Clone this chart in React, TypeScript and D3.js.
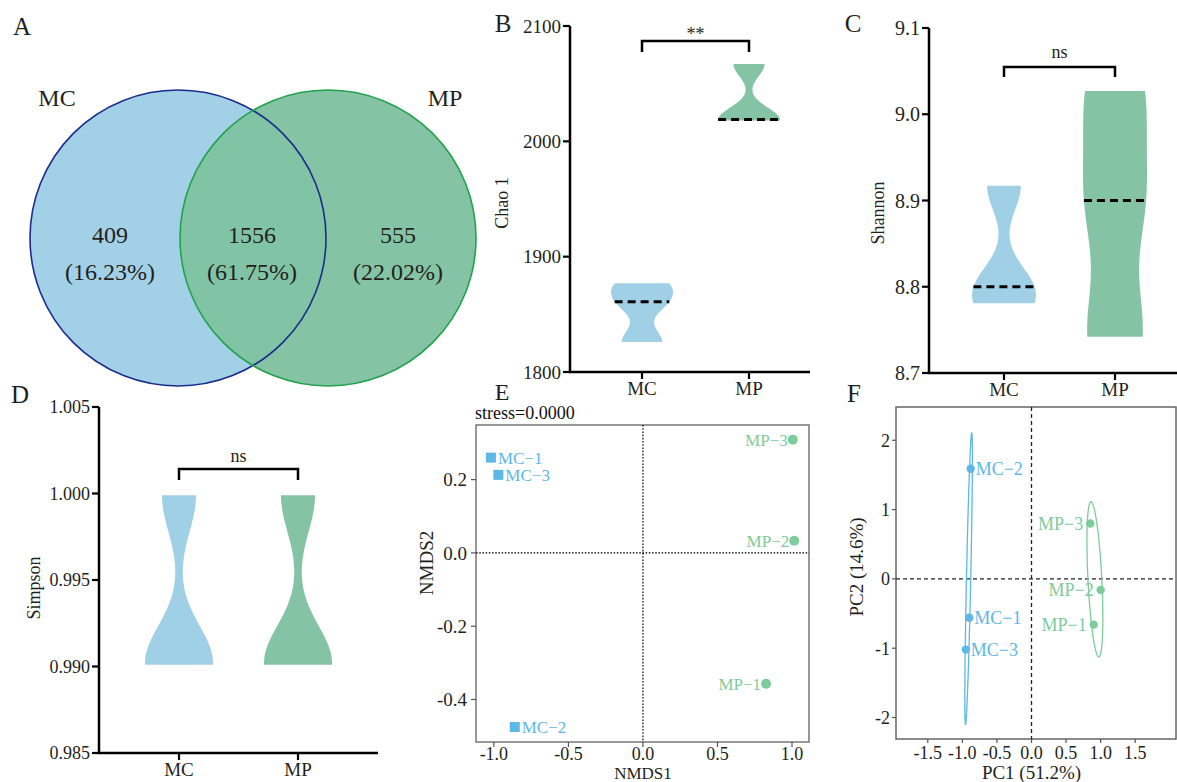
import React from 'react';
import * as d3 from 'd3';

const groups = ['MC', 'MP'];

// A: Venn
const vennSets = ['MC', 'MP'];
const vennCounts = [409, 1556, 555];
const vennPercents = ['16.23%', '61.75%', '22.02%'];

// B-D: alpha diversity, three replicates per group
const chao1MC = [1826, 1861, 1877];
const chao1MP = [2018, 2019, 2067];
const shannonMC = [8.781, 8.8, 8.917];
const shannonMP = [8.742, 8.9, 9.027];
const simpsonMC = [0.9901, 0.9903, 0.9999];
const simpsonMP = [0.9901, 0.9903, 0.9999];

const chao1Ticks = [1800, 1900, 2000, 2100];
const shannonTicks = [8.7, 8.8, 8.9, 9.0, 9.1];
const simpsonTicks = [0.985, 0.99, 0.995, 1.0, 1.005];

// E: NMDS, F: PCA
const sampleNames = ['MC−1', 'MC−2', 'MC−3', 'MP−1', 'MP−2', 'MP−3'];
const sampleGroups = ['MC', 'MC', 'MC', 'MP', 'MP', 'MP'];
const nmds1 = [-1.02, -0.86, -0.97, 0.826, 1.015, 1.005];
const nmds2 = [0.26, -0.475, 0.213, -0.357, 0.033, 0.309];
const nmdsXTicks = [-1, -0.5, 0, 0.5, 1];
const nmdsYTicks = [-0.4, -0.2, 0, 0.2];

const pc1 = [-0.9, -0.88, -0.95, 0.9, 1.0, 0.85];
const pc2 = [-0.56, 1.59, -1.02, -0.66, -0.16, 0.8];
const pcaXTicks = [-1.5, -1, -0.5, 0, 0.5, 1, 1.5];
const pcaYTicks = [-2, -1, 0, 1, 2];

const FONT = '"Liberation Serif", "Times New Roman", serif';
const INK = '#231f20';
const fill = { MC: '#a0d0e6', MP: '#84c4a4' };
const dot = { MC: '#5cb8e6', MP: '#7ecb9c' };

const fmt = (f) => (v) => d3.format(f)(v).replace('−', '-');

function Violin({ samples, cx, y, halfW, color, showMedian }) {
  const lo = d3.min(samples);
  const hi = d3.max(samples);
  const bw = 0.22 * (hi - lo);
  const kde = (v) => d3.sum(samples, (s) => Math.exp(-((v - s) ** 2) / (2 * bw * bw)));
  const pts = d3.range(0, 121).map((i) => {
    const v = lo + ((hi - lo) * i) / 120;
    return { v, d: kde(v) };
  });
  const w = d3.scaleLinear().domain([0, d3.max(pts, (p) => p.d)]).range([0, halfW]);
  const area = d3
    .area()
    .y((p) => y(p.v))
    .x0((p) => cx - w(p.d))
    .x1((p) => cx + w(p.d));
  const med = d3.median(samples);
  const mw = w(kde(med));
  return (
    <g>
      <path d={area(pts)} fill={color} />
      {showMedian && (
        <line x1={cx - mw} x2={cx + mw} y1={y(med)} y2={y(med)} stroke="#000" strokeWidth={3} strokeDasharray="8,5" />
      )}
    </g>
  );
}

function ViolinPanel({ p }) {
  const y = d3.scaleLinear().domain(p.domain).range([p.bottom, p.top]);
  const x = d3.scalePoint().domain(groups).range(p.xRange);
  const tf = fmt(p.format);
  const [x1, x2] = p.xRange;
  return (
    <g fontFamily={FONT} fill={INK}>
      <text x={p.letter[0]} y={p.letter[1]} fontSize={25} textAnchor="middle">{p.name}</text>
      {p.series.map((s, i) => (
        <Violin key={i} samples={s} cx={x(groups[i])} y={y} halfW={p.halfW} color={fill[groups[i]]} showMedian={p.median} />
      ))}
      <line x1={p.axisX} x2={p.axisX} y1={p.top} y2={p.bottom} stroke="#000" strokeWidth={2.5} />
      <line x1={p.axisX - 1.25} x2={p.xEnd} y1={p.bottom} y2={p.bottom} stroke="#000" strokeWidth={2.5} />
      {p.ticks.map((t) => (
        <g key={t}>
          <line x1={p.axisX - 7} x2={p.axisX} y1={y(t)} y2={y(t)} stroke="#000" strokeWidth={2.2} />
          <text x={p.axisX - 9} y={y(t)} dy="0.35em" textAnchor="end" fontSize={p.tickSize}>{tf(t)}</text>
        </g>
      ))}
      {groups.map((g) => (
        <g key={g}>
          <line x1={x(g)} x2={x(g)} y1={p.bottom} y2={p.bottom + 7} stroke="#000" strokeWidth={2.2} />
          <text x={x(g)} y={p.bottom + 23} textAnchor="middle" fontSize={19}>{g}</text>
        </g>
      ))}
      <text transform={`translate(${p.ylabel[0]},${p.ylabel[1]}) rotate(-90)`} textAnchor="middle" fontSize={18}>{p.title}</text>
      <path
        d={`M${x1},${p.bracketY + p.drop}V${p.bracketY}H${x2}V${p.bracketY + p.drop}`}
        fill="none"
        stroke="#000"
        strokeWidth={2.5}
      />
      <text x={(x1 + x2) / 2} y={p.sigY} textAnchor="middle" fontSize={18}>{p.sig}</text>
    </g>
  );
}

const panels = [
  {
    name: 'B', letter: [503, 32], series: [chao1MC, chao1MP], domain: [1800, 2100], ticks: chao1Ticks, format: 'd',
    axisX: 570, top: 26, bottom: 372, xEnd: 810, xRange: [642, 749], halfW: 31, median: true,
    bracketY: 41, drop: 11, sig: '**', sigY: 40, title: 'Chao 1', ylabel: [508, 203], tickSize: 19,
  },
  {
    name: 'C', letter: [853, 32], series: [shannonMC, shannonMP], domain: [8.7, 9.1], ticks: shannonTicks, format: '.1f',
    axisX: 929, top: 28, bottom: 373, xEnd: 1177, xRange: [1004, 1115], halfW: 32, median: true,
    bracketY: 67, drop: 10, sig: 'ns', sigY: 58, title: 'Shannon', ylabel: [884, 213], tickSize: 20,
  },
  {
    name: 'D', letter: [20, 403], series: [simpsonMC, simpsonMP], domain: [0.985, 1.005], ticks: simpsonTicks, format: '.3f',
    axisX: 99, top: 407, bottom: 753, xEnd: 378, xRange: [179, 298], halfW: 34, median: false,
    bracketY: 469, drop: 11, sig: 'ns', sigY: 462, title: 'Simpson', ylabel: [40, 588], tickSize: 18,
  },
];

function Venn() {
  const cy = 238;
  const r = 148;
  const cx = d3.scalePoint().domain(vennSets).range([178, 328]);
  const textX = [110, 252, 398];
  return (
    <g fontFamily={FONT} fill={INK}>
      <text x={22} y={35} fontSize={25} textAnchor="middle">A</text>
      <circle cx={cx('MC')} cy={cy} r={r} fill="#a2d1e7" />
      <circle cx={cx('MP')} cy={cy} r={r} fill="#80c2a2" fillOpacity={0.97} />
      <circle cx={cx('MC')} cy={cy} r={r} fill="none" stroke="#1c2b8c" strokeWidth={1.6} />
      <circle cx={cx('MP')} cy={cy} r={r} fill="none" stroke="#22a24c" strokeWidth={1.6} />
      <text x={57} y={106} fontSize={24} textAnchor="middle">{vennSets[0]}</text>
      <text x={445} y={106} fontSize={24} textAnchor="middle">{vennSets[1]}</text>
      {vennCounts.map((c, i) => (
        <g key={i}>
          <text x={textX[i]} y={243} fontSize={24} textAnchor="middle">{c}</text>
          <text x={textX[i]} y={280} fontSize={24} textAnchor="middle">({vennPercents[i]})</text>
        </g>
      ))}
    </g>
  );
}

function Nmds() {
  const x = d3.scaleLinear().domain([-1.12, 1.114]).range([476, 809]);
  const y = d3.scaleLinear().domain([-0.516, 0.349]).range([742, 425]);
  const tf = fmt('.1f');
  const [l, r] = x.range();
  const [b, t] = y.range();
  return (
    <g fontFamily={FONT} fill={INK}>
      <text x={502} y={400} fontSize={24} textAnchor="middle">E</text>
      <text x={475} y={419} fontSize={18} fill="#111">stress=0.0000</text>
      <rect x={l} y={t} width={r - l} height={b - t} fill="none" stroke="#777" strokeWidth={1.5} />
      <line x1={x(0)} x2={x(0)} y1={t} y2={b} stroke="#000" strokeWidth={1.2} strokeDasharray="1.6,1.6" />
      <line x1={l} x2={r} y1={y(0)} y2={y(0)} stroke="#000" strokeWidth={1.2} strokeDasharray="1.6,1.6" />
      {nmdsXTicks.map((v) => (
        <g key={v}>
          <line x1={x(v)} x2={x(v)} y1={b} y2={b + 5} stroke="#555" strokeWidth={1.2} />
          <text x={x(v)} y={760} textAnchor="middle" fontSize={18}>{tf(v)}</text>
        </g>
      ))}
      {nmdsYTicks.map((v) => (
        <g key={v}>
          <line x1={l - 5} x2={l} y1={y(v)} y2={y(v)} stroke="#555" strokeWidth={1.2} />
          <text x={l - 9} y={y(v)} dy="0.35em" textAnchor="end" fontSize={19}>{tf(v)}</text>
        </g>
      ))}
      <text x={x(0)} y={779} textAnchor="middle" fontSize={17}>NMDS1</text>
      <text transform={`translate(${433},${563}) rotate(-90)`} textAnchor="middle" fontSize={19}>NMDS2</text>
      {sampleNames.map((n, i) => {
        const g = sampleGroups[i];
        const px = x(nmds1[i]);
        const py = y(nmds2[i]);
        return g === 'MC' ? (
          <g key={n}>
            <rect x={px - 5} y={py - 5} width={10} height={10} fill={dot.MC} />
            <text x={px + 7} y={py} dy="0.35em" fontSize={17} fill={dot.MC}>{n}</text>
          </g>
        ) : (
          <g key={n}>
            <circle cx={px} cy={py} r={5} fill={dot.MP} />
            <text x={px - 5} y={py} dy="0.35em" fontSize={17} textAnchor="end" fill={dot.MP}>{n}</text>
          </g>
        );
      })}
    </g>
  );
}

function ellipse(xs, ys, level) {
  const n = xs.length;
  const mx = d3.mean(xs);
  const my = d3.mean(ys);
  const sxx = d3.sum(xs, (v) => (v - mx) ** 2) / (n - 1);
  const syy = d3.sum(ys, (v) => (v - my) ** 2) / (n - 1);
  const sxy = d3.sum(xs, (v, i) => (v - mx) * (ys[i] - my)) / (n - 1);
  const a = Math.sqrt(sxx);
  const bb = sxy / a;
  const c = Math.sqrt(Math.max(syy - bb * bb, 0));
  const rad = Math.sqrt(-2 * Math.log(1 - level));
  return d3.range(0, 120).map((k) => {
    const th = (2 * Math.PI * k) / 120;
    return [mx + rad * a * Math.cos(th), my + rad * (bb * Math.cos(th) + c * Math.sin(th))];
  });
}

function Pca() {
  const x = d3.scaleLinear().domain([-1.96, 2.09]).range([896, 1176]);
  const y = d3.scaleLinear().domain([-2.31, 2.48]).range([739, 407]);
  const tf1 = fmt('.1f');
  const tf0 = fmt('d');
  const [l, r] = x.range();
  const [b, t] = y.range();
  const line = d3
    .line()
    .x((d) => x(d[0]))
    .y((d) => y(d[1]))
    .curve(d3.curveLinearClosed);
  return (
    <g fontFamily={FONT} fill={INK}>
      <text x={854} y={402} fontSize={25} textAnchor="middle">F</text>
      <rect x={l} y={t} width={r - l} height={b - t} fill="none" stroke="#666" strokeWidth={1.5} />
      <line x1={x(0)} x2={x(0)} y1={t} y2={b} stroke="#222" strokeWidth={1.3} strokeDasharray="4,3" />
      <line x1={l} x2={r} y1={y(0)} y2={y(0)} stroke="#222" strokeWidth={1.3} strokeDasharray="4,3" />
      {groups.map((g) => {
        const idx = sampleGroups.map((s, i) => (s === g ? i : -1)).filter((i) => i >= 0);
        const pts = ellipse(idx.map((i) => pc1[i]), idx.map((i) => pc2[i]), 0.68);
        return <path key={g} d={line(pts)} fill="none" stroke={dot[g]} strokeWidth={1.3} />;
      })}
      {pcaXTicks.map((v) => (
        <g key={v}>
          <line x1={x(v)} x2={x(v)} y1={b} y2={b + 4} stroke="#555" strokeWidth={1.2} />
          <text x={x(v)} y={759} textAnchor="middle" fontSize={18}>{tf1(v)}</text>
        </g>
      ))}
      {pcaYTicks.map((v) => (
        <g key={v}>
          <line x1={l - 4} x2={l} y1={y(v)} y2={y(v)} stroke="#555" strokeWidth={1.2} />
          <text x={l - 6} y={y(v)} dy="0.35em" textAnchor="end" fontSize={18}>{tf0(v)}</text>
        </g>
      ))}
      <text x={x(0)} y={779} textAnchor="middle" fontSize={19}>PC1 (51.2%)</text>
      <text transform={`translate(${863},${567}) rotate(-90)`} textAnchor="middle" fontSize={19}>PC2 (14.6%)</text>
      {sampleNames.map((n, i) => {
        const g = sampleGroups[i];
        const px = x(pc1[i]);
        const py = y(pc2[i]);
        return (
          <g key={n}>
            <circle cx={px} cy={py} r={4.2} fill={dot[g]} />
            {g === 'MC' ? (
              <text x={px + 5} y={py} dy="0.35em" fontSize={18} fill={dot[g]}>{n}</text>
            ) : (
              <text x={px - 7} y={py} dy="0.35em" fontSize={18} textAnchor="end" fill={dot[g]}>{n}</text>
            )}
          </g>
        );
      })}
    </g>
  );
}

export default function App() {
  return (
    <svg
      width={1177}
      height={782}
      style={{ position: 'absolute', left: 0, top: 0, background: '#fff' }}
    >
      <rect width={1177} height={782} fill="#fff" />
      <Venn />
      {panels.map((p) => (
        <ViolinPanel key={p.name} p={p} />
      ))}
      <Nmds />
      <Pca />
    </svg>
  );
}
